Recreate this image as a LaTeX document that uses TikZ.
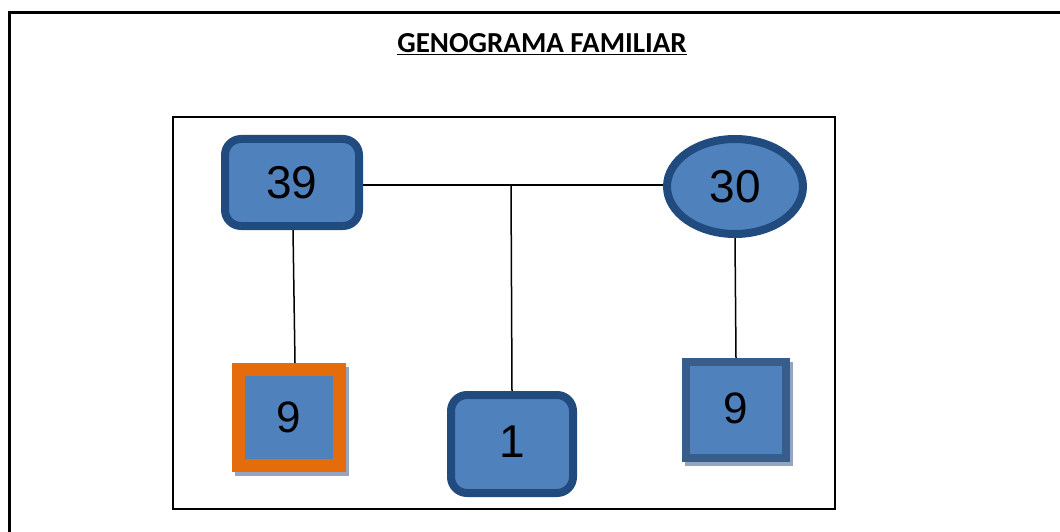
\documentclass[tikz,border=0pt]{standalone}
\usepackage{fontspec}
\setmainfont{Liberation Sans}
\newfontfamily\titlefont{Carlito}
\usetikzlibrary{shapes.geometric, shadows, backgrounds}

\definecolor{persfill}{RGB}{79,129,189}
\definecolor{persline}{RGB}{33,74,126}
\definecolor{sqline}{RGB}{56,93,138}
\definecolor{kidorange}{RGB}{228,108,10}
\definecolor{shadowgrey}{RGB}{148,165,189}

\begin{document}
\begin{tikzpicture}[x=1pt, y=-1pt,
    every node/.style={inner sep=0pt, font=\fontsize{46}{50}\selectfont},
    person/.style={draw=persline, fill=persfill, line width=8pt},
    roundbox/.style={person, rectangle, rounded corners=16pt},
    ovalbox/.style={person, ellipse},
    kidbox/.style={fill=persfill, rectangle, font=\fontsize{44}{48}\selectfont,
      drop shadow={shadow xshift=3pt, shadow yshift=-4pt, fill=shadowgrey, draw=shadowgrey, opacity=1}},
    link/.style={line width=1.5pt}]
  \useasboundingbox (0,0) rectangle (1060,532);
  % title
  \node[font=\titlefont\bfseries\fontsize{29}{33}\selectfont] (title) at (542,44) {\underline{GENOGRAMA FAMILIAR}};
  % persons
  \node[roundbox, minimum width=134pt, minimum height=87pt] (p39) at (292,182.5) {39};
  \node[ovalbox, minimum width=136pt, minimum height=95pt] (p30) at (735,186.5) {\raisebox{-3pt}{30}};
  \node[kidbox, draw=kidorange, line width=13pt, minimum width=101pt, minimum height=96pt] (k9l) at (289,417.5) {9};
  \node[kidbox, draw=sqline, line width=8pt, minimum width=100pt, minimum height=96pt] (k9r) at (736,410) {\raisebox{3pt}{9}};
  \node[roundbox, minimum width=122pt, minimum height=98pt] (k1) at (512,444) {\raisebox{4pt}{1}};
  \coordinate (mid) at (511,185);
  % frames and links behind the boxes
  \begin{scope}[on background layer]
    \draw[line width=3pt] (9,13) rectangle (1075,545);
    \draw[line width=2pt] (173,117) rectangle (835,509);
    \draw[link] (p39.east |- mid) -- (p30.west |- mid);
    \draw[link] (mid) -- (k1.north);
    \draw[link] ([xshift=1pt]p39.south) -- ([xshift=6pt]k9l.north);
    \draw[link] (p30.south) -- (k9r.north);
  \end{scope}
\end{tikzpicture}
\end{document}
